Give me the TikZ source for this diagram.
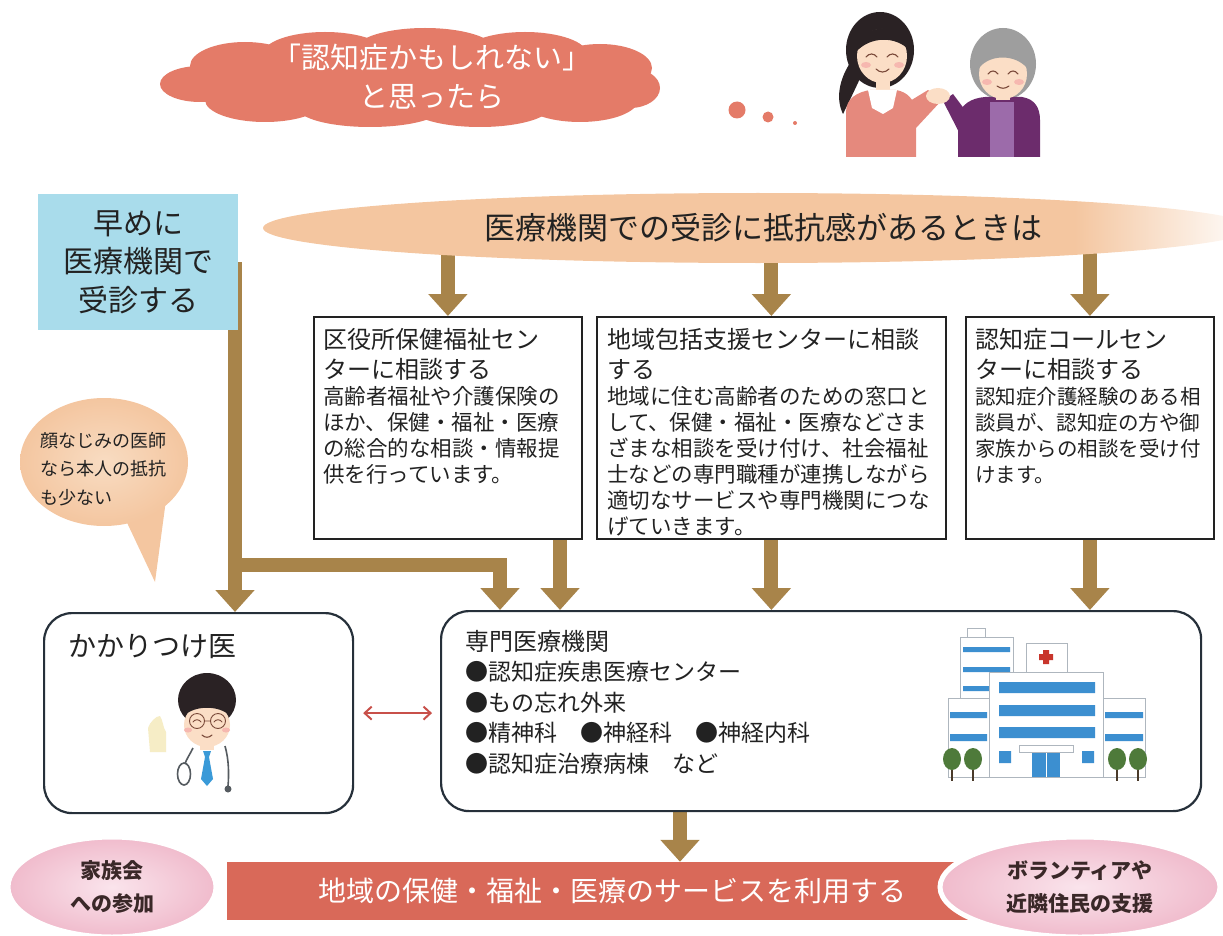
\documentclass[tikz,border=0pt]{standalone}
\usepackage{fontspec}
\setmainfont{Noto Sans CJK JP}
\usetikzlibrary{arrows.meta,calc,shapes.geometric}

\definecolor{cloudred}{HTML}{E47B68}
\definecolor{bannerred}{HTML}{D96959}
\definecolor{peach}{HTML}{F4C6A0}
\definecolor{peachlight}{HTML}{F8DCC2}
\definecolor{skyblue}{HTML}{A9DCEB}
\definecolor{arrowbrown}{HTML}{A8844A}
\definecolor{pinkoval}{HTML}{F0BBCC}
\definecolor{pinklight}{HTML}{FAE4EC}
\definecolor{framedark}{HTML}{26303A}
\definecolor{linkred}{HTML}{C8504A}
\definecolor{inkgrey}{HTML}{222222}
\definecolor{ovalink}{HTML}{3A2828}
\definecolor{skintone}{HTML}{FBDEC6}
\definecolor{cheekpink}{HTML}{F6B8B0}
\definecolor{facebrown}{HTML}{7A4A3A}
\definecolor{hairblack}{HTML}{2A2224}
\definecolor{hairgrey}{HTML}{9E9E9E}
\definecolor{pinktop}{HTML}{E5897D}
\definecolor{purplecoat}{HTML}{6C2C6C}
\definecolor{lavender}{HTML}{9C6BAA}
\definecolor{buildgrey}{HTML}{AEB6BE}
\definecolor{winblue}{HTML}{3C8FD0}
\definecolor{treegreen}{HTML}{4E7A3A}
\definecolor{trunkbrown}{HTML}{4A3A2A}
\definecolor{crossred}{HTML}{C8352C}
\definecolor{tieblue}{HTML}{3A9AD8}
\definecolor{scopegrey}{HTML}{555B60}
\definecolor{thumbcream}{HTML}{F6EDC6}

\pgfdeclarelayer{back}
\pgfsetlayers{back,main}
\pgfdeclarehorizontalshading{peachfade}{100bp}{color(0bp)=(peach); color(25bp)=(peach); color(66bp)=(peach); color(75bp)=(white); color(100bp)=(white)}

\begin{document}
\begin{tikzpicture}[x=1pt,y=-1pt,
  bigarrow/.style={draw=arrowbrown, line width=14pt, line join=miter, -{Triangle[width=38pt,length=22pt]}},
  infobox/.style={draw=inkgrey, line width=1.8pt, fill=white, anchor=north west, inner sep=0pt},
  boxtext/.style={anchor=north west, align=left, inner sep=0pt, text=inkgrey},
  roundbox/.style={draw=framedark, line width=2.2pt, rounded corners=28pt, fill=white, anchor=north west, inner sep=0pt},
  oval/.style={ellipse, draw=white, line width=5pt, inner color=pinklight, outer color=pinkoval, inner sep=0pt},
  ovaltext/.style={align=center, text=ovalink, font=\fontsize{21}{33}\selectfont\bfseries},
  eyeline/.style={draw=facebrown, line width=1.1pt, line cap=round},
  building/.style={draw=buildgrey, line width=0.8pt, fill=white},
  windows/.style={fill=winblue},
]
\useasboundingbox (0,0) rectangle (1223,936);

% ---------- thought cloud ----------
\begin{scope}[fill=cloudred]
  \fill (412,82) ellipse (232 and 36);
  \fill (200,84) ellipse (40 and 18);
  \fill (245,66) ellipse (55 and 24);
  \fill (325,54) ellipse (62 and 22);
  \fill (425,50) ellipse (70 and 22);
  \fill (525,54) ellipse (62 and 22);
  \fill (600,68) ellipse (52 and 24);
  \fill (630,88) ellipse (30 and 20);
  \fill (265,100) ellipse (60 and 22);
  \fill (370,108) ellipse (72 and 19);
  \fill (480,107) ellipse (70 and 20);
  \fill (580,100) ellipse (58 and 22);
  \fill (737,110) circle (8.5);
  \fill (768,117) circle (5.5);
  \fill (795,123) circle (2);
\end{scope}
\node[text=white, align=center, font=\fontsize{29}{39}\selectfont] (worry) at (432,77)
  {「認知症かもしれない」\\と思ったら};

% ---------- two women holding hands ----------
% younger woman
\fill[hairblack] (880,50) ellipse (34 and 38);
\fill[hairblack] (852,60) .. controls (838,80) and (836,100) .. (843,114) .. controls (850,100) and (857,85) .. (863,72) -- cycle;
\fill[pinktop] (846,157) -- (846,112) .. controls (846,98) and (858,92) .. (870,90) -- (896,90) .. controls (908,92) and (914,100) .. (916,110) -- (916,157) -- cycle;
\fill[pinktop] (905,104) -- (928,90) -- (942,100) -- (916,128) -- cycle;
\fill[skintone] (876,76) rectangle (890,92);
\fill[white] (868,90) -- (897,90) -- (893,108) -- (883,114) -- (872,108) -- cycle;
\fill[skintone] (882,56) ellipse (25 and 27);
\fill[hairblack] (856,52) .. controls (858,22) and (906,20) .. (909,50) .. controls (896,36) and (870,36) .. (856,52) -- cycle;
\draw[eyeline] (866,57) .. controls (869,53) and (874,53) .. (877,57);
\draw[eyeline] (887,57) .. controls (890,53) and (895,53) .. (898,57);
\draw[eyeline] (876,69) .. controls (880,73) and (885,73) .. (889,69);
\fill[cheekpink] (866,65) ellipse (5 and 3);
\fill[cheekpink] (899,65) ellipse (5 and 3);
% older woman
\fill[hairgrey] (1003,64) ellipse (33 and 36);
\fill[purplecoat] (958,157) -- (958,118) .. controls (960,104) and (972,98) .. (985,97) -- (1022,97) .. controls (1035,99) and (1040,108) .. (1040,120) -- (1040,157) -- cycle;
\fill[lavender] (990,102) rectangle (1014,157);
\fill[purplecoat] (943,101) -- (953,94) -- (974,122) -- (964,142) -- cycle;
\fill[skintone] (996,86) rectangle (1010,100);
\fill[skintone] (1003,74) ellipse (24 and 25);
\fill[hairgrey] (979,68) .. controls (980,40) and (1026,40) .. (1027,68) .. controls (1015,54) and (990,54) .. (979,68) -- cycle;
\draw[eyeline] (988,74) .. controls (991,70) and (995,70) .. (998,74);
\draw[eyeline] (1008,74) .. controls (1011,70) and (1015,70) .. (1018,74);
\draw[eyeline] (997,86) .. controls (1001,89) and (1005,89) .. (1009,86);
\fill[cheekpink] (987,82) ellipse (5 and 3);
\fill[cheekpink] (1019,82) ellipse (5 and 3);
% joined hands
\fill[skintone] (938,96) ellipse (12 and 8);

% ---------- two routes ----------
\node[fill=skyblue, minimum width=200pt, minimum height=135pt, inner sep=0pt, align=center,
      text=inkgrey, font=\fontsize{30}{38.5}\selectfont] (early) at (138,262)
  {早めに\\医療機関で\\受診する};

\node[ellipse, shade, shading=peachfade, minimum width=990pt, minimum height=70pt, inner sep=0pt,
      text=inkgrey, font=\fontsize{31}{36}\selectfont] (concern) at (758,228)
  {\hspace*{10pt}医療機関での受診に抵抗感があるときは};

% ---------- consultation boxes ----------
\node[infobox, minimum width=268pt, minimum height=222pt] (b1) at (313,316) {};
\node[infobox, minimum width=349pt, minimum height=222pt] (b2) at (596,316) {};
\node[infobox, minimum width=248pt, minimum height=222pt] (b3) at (965,316) {};

\node[boxtext, text width=250pt] (b1t) at ($(b1.north west)+(10,12)$)
  {\fontsize{24}{30}\selectfont 区役所保健福祉セン\\ターに相談する\par
   \fontsize{21.5}{26}\selectfont 高齢者福祉や介護保険の\\ほか、保健・福祉・医療\\の総合的な相談・情報提\\供を行っています。\par};
\node[boxtext, text width=330pt] (b2t) at ($(b2.north west)+(11,12)$)
  {\fontsize{24}{30}\selectfont 地域包括支援センターに相談\\する\par
   \fontsize{21.5}{26}\selectfont 地域に住む高齢者のための窓口と\\して、保健・福祉・医療などさま\\ざまな相談を受け付け、社会福祉\\士などの専門職種が連携しながら\\適切なサービスや専門機関につな\\げていきます。\par};
\node[boxtext, text width=232pt] (b3t) at ($(b3.north west)+(10,12)$)
  {\fontsize{24}{30}\selectfont 認知症コールセン\\ターに相談する\par
   \fontsize{20.5}{26}\selectfont 認知症介護経験のある相\\談員が、認知症の方や御\\家族からの相談を受け付\\けます。\par};

% ---------- speech bubble ----------
\node[ellipse, inner color=peachlight, outer color=peach, minimum width=168pt, minimum height=128pt, inner sep=0pt] (bubble) at (104,462) {};
\node[boxtext, anchor=center, text width=140pt, font=\fontsize{18}{28.5}\selectfont] (bubbletext) at (110,469)
  {顔なじみの医師\\なら本人の抵抗\\も少ない};

% ---------- medical providers ----------
\node[roundbox, minimum width=309pt, minimum height=200pt] (kk) at (43,612) {};
\node[boxtext, font=\fontsize{28}{34}\selectfont] (kkt) at ($(kk.north west)+(25,22)$) {かかりつけ医};

\node[roundbox, minimum width=760pt, minimum height=200pt] (sm) at (440,610) {};
\node[boxtext, text width=480pt] (smt) at ($(sm.north west)+(25,20)$)
  {\fontsize{24}{34}\selectfont 専門医療機関\par
   \fontsize{23}{30.5}\selectfont ●認知症疾患医療センター\\●もの忘れ外来\\●精神科　●神経科　●神経内科\\●認知症治療病棟　など\par};

\draw[linkred, line width=2pt, {Straight Barb[length=7pt,width=13pt]}-{Straight Barb[length=7pt,width=13pt]},
      shorten <=9pt, shorten >=8pt] (kk.east) -- (kk.east -| sm.west);

% doctor
\fill[thumbcream] (150,752) -- (148,728) .. controls (150,722) and (156,716) .. (160,716) .. controls (163,720) and (163,728) .. (166,732) -- (166,752) -- cycle;
\fill[white] (168,790) -- (172,752) .. controls (178,744) and (236,744) .. (242,752) -- (246,790) -- cycle;
\fill[skintone] (200,738) rectangle (214,750);
\fill[hairblack] (207,700) ellipse (29 and 27);
\fill[skintone] (207,725) ellipse (23 and 22);
\fill[hairblack] (184,716) .. controls (184,692) and (230,692) .. (230,716) .. controls (220,705) and (194,705) .. (184,716) -- cycle;
\draw[facebrown, line width=0.9pt] (197,721) circle (7.5) (218,721) circle (7.5) (204.5,721) -- (210.5,721);
\draw[eyeline, line width=0.9pt] (193,722) .. controls (195,719) and (199,719) .. (201,722);
\draw[eyeline, line width=0.9pt] (214,722) .. controls (216,719) and (220,719) .. (222,722);
\draw[eyeline] (202,735) .. controls (205,738) and (209,738) .. (212,735);
\fill[cheekpink] (188,730) ellipse (4 and 2.5);
\fill[cheekpink] (226,730) ellipse (4 and 2.5);
\fill[tieblue] (203,751) -- (211,751) -- (209,757) -- (213,779) -- (207,786) -- (201,779) -- (205,757) -- cycle;
\draw[scopegrey, line width=1.6pt] (193,748) .. controls (189,756) and (186,760) .. (185,764);
\draw[scopegrey, line width=1.6pt] (184,774) ellipse (6.5 and 11);
\draw[scopegrey, line width=1.6pt] (225,746) .. controls (229,760) and (229,775) .. (228,786);
\fill[scopegrey] (228,789) circle (3.5);

% hospital
\draw[building] (967,628) rectangle (985,637);
\draw[building] (960,637) rectangle (1013,700);
\fill[windows] (963,647) rectangle (1010,652) (963,667) rectangle (1010,672) (963,686) rectangle (1010,691);
\draw[building] (1026,643) rectangle (1067,672);
\fill[crossred] (1043,650) rectangle (1049,664) (1039,654) rectangle (1053,660);
\draw[building] (948,698) rectangle (989,777);
\draw[building] (1103,698) rectangle (1145,777);
\draw[building] (989,672) rectangle (1103,777);
\fill[windows] (950,712) rectangle (987,718) (950,734) rectangle (987,741);
\fill[windows] (1105,712) rectangle (1143,718) (1105,734) rectangle (1143,741);
\fill[windows] (999,682) rectangle (1095,693) (999,705) rectangle (1095,716) (999,727) rectangle (1095,738);
\fill[windows] (999,751) rectangle (1011,763) (1082,751) rectangle (1094,763);
\draw[building] (1019,745) rectangle (1073,752);
\fill[windows] (1032,753) rectangle (1060,777);
\draw[white, line width=0.8pt] (1046,753) -- (1046,777);
\foreach \tx in {952,973,1117,1138} {
  \fill[trunkbrown] (\tx-1.2,762) rectangle (\tx+1.2,781);
  \fill[treegreen] (\tx,759) ellipse (9 and 11);
}

% ---------- community services ----------
\node[fill=bannerred, minimum width=770pt, minimum height=58pt, inner sep=0pt,
      text=white, font=\fontsize{28}{32}\selectfont] (banner) at (612,891)
  {地域の保健・福祉・医療のサービスを利用する};
\node[oval, minimum width=208pt, minimum height=100pt] (fam) at (112,887) {};
\node[ovaltext] (famt) at (fam.center) {家族会\\への参加};
\node[oval, minimum width=280pt, minimum height=100pt] (vol) at (1080,887) {};
\node[ovaltext] (volt) at (vol.center) {ボランティアや\\近隣住民の支援};

\coordinate (fork) at (235,565);
\coordinate (drop) at (500,565);
\coordinate (b1out) at (560,540);
\coordinate (svcout) at (680,812);

% ---------- brown flow arrows (behind the shapes) ----------
\begin{pgfonlayer}{back}
  \fill[peach] ($(bubble.center)+(18,50)$) -- (155,582) -- ($(bubble.center)+(62,38)$) -- cycle;
  \draw[bigarrow] (concern.center -| b1.north) -- (b1.north);
  \draw[bigarrow] (concern.center -| b2.north) -- (b2.north);
  \draw[bigarrow] (concern.center -| b3.north) -- (b3.north);
  \draw[bigarrow] (fork |- early.center) -- (fork |- kk.north);
  \draw[bigarrow] (fork) -- (drop) -- (drop |- sm.north);
  \draw[bigarrow] (b1out |- b1.center) -- (b1out |- sm.north);
  \draw[bigarrow] (b2.center) -- (b2.center |- sm.north);
  \draw[bigarrow] (b3.center) -- (b3.center |- sm.north);
  \draw[bigarrow] (svcout |- sm.center) -- (svcout |- banner.north);
\end{pgfonlayer}
\end{tikzpicture}
\end{document}
